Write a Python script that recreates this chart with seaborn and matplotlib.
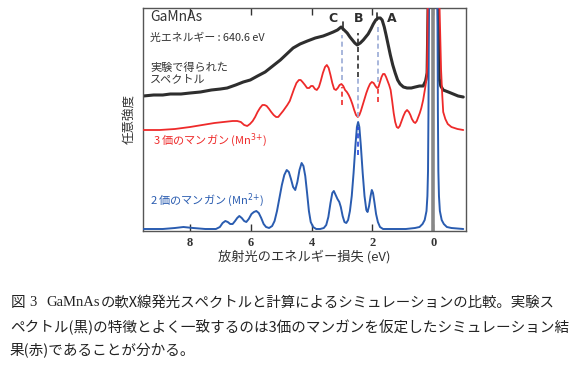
import matplotlib
matplotlib.use("Agg")
import matplotlib.pyplot as plt
import seaborn as sns

# spectra: energy loss (eV) and intensity (arb. units)
exp_ev = [9.54, 9.2, 8.9, 8.65, 8.3, 8.0, 7.66, 7.3, 7.0, 6.78, 6.5, 6.25, 6.02, 5.78, 5.53,
          5.28, 5.03, 4.82, 4.61, 4.38, 4.14, 3.88, 3.62, 3.45, 3.29, 3.15, 3.03, 2.93, 2.83,
          2.74, 2.66, 2.58, 2.50, 2.40, 2.30, 2.22, 2.14, 2.05, 1.97, 1.89, 1.81, 1.74, 1.68,
          1.61, 1.55, 1.48, 1.41, 1.33, 1.25, 1.17, 1.09, 0.98, 0.86, 0.72, 0.59, 0.45, 0.33,
          0.25, 0.20, 0.16, 0.13, -0.13, -0.16, -0.20, -0.25, -0.33, -0.50, -0.66, -0.82, -0.99]
exp_int = [135, 136, 136, 137, 137, 138, 139, 141, 142, 143, 146, 149, 151, 155, 159,
           165, 171, 177, 183, 187, 190, 193, 195, 197, 199, 201, 204, 201, 198,
           194, 191, 188, 186, 188, 191, 194, 197, 202, 207, 211, 213, 213, 211,
           204, 196, 186, 176, 166, 158, 151, 147, 144, 143, 143, 144, 145, 145,
           150, 158, 240, 400, 400, 240, 152, 145, 141, 139, 137, 135, 134]

mn3_ev = [9.54, 9.0, 8.5, 8.0, 7.6, 7.2, 6.9, 6.6, 6.45, 6.33, 6.22, 6.12, 6.03, 5.94, 5.86,
          5.78, 5.70, 5.62, 5.55, 5.48, 5.40, 5.33, 5.25, 5.17, 5.10, 5.02, 4.94, 4.87, 4.80,
          4.72, 4.65, 4.58, 4.50, 4.42, 4.36, 4.30, 4.22, 4.15, 4.08, 4.02, 3.96, 3.89, 3.83,
          3.76, 3.70, 3.63, 3.56, 3.50, 3.44, 3.38, 3.32, 3.26, 3.20, 3.14, 3.08, 3.02, 2.96,
          2.90, 2.84, 2.78, 2.72, 2.66, 2.60, 2.54, 2.48, 2.43, 2.38, 2.32, 2.26, 2.20, 2.14,
          2.08, 2.02, 1.96, 1.90, 1.85, 1.80, 1.75, 1.70, 1.65, 1.60, 1.55, 1.50, 1.45, 1.40,
          1.35, 1.30, 1.25, 1.20, 1.15, 1.10, 1.04, 0.98, 0.92, 0.86, 0.80, 0.75, 0.70, 0.64,
          0.59, 0.54, 0.49, 0.44, 0.39, 0.33, 0.27, 0.22, 0.20, 0.18, 0.15,
          -0.15, -0.21, -0.26, -0.30, -0.33, -0.40, -0.48, -0.60, -0.80, -0.99]
mn3_int = [101, 101, 102, 104, 106, 108, 109, 110, 110, 109, 106, 105, 107, 110, 114,
           119, 123, 126, 126, 125, 122, 119, 116, 114, 114, 117, 120, 123, 126,
           130, 136, 142, 148, 151, 151, 149, 146, 143, 143, 145, 145, 142, 141,
           144, 150, 158, 164, 166, 163, 156, 148, 142, 141, 143, 146, 147, 145,
           141, 139, 136, 132, 127, 121, 116, 114, 116, 120, 126, 132, 138, 143,
           147, 149, 148, 145, 143, 144, 149, 154, 157, 157, 154, 150, 146, 141,
           130, 118, 109, 104, 103, 105, 110, 115, 119, 121, 119, 116, 112, 109,
           108, 110, 114, 118, 123, 131, 142, 152, 165, 223, 400,
           400, 223, 161, 135, 119, 112, 107, 104, 102, 101]

mn2_ev = [9.54, 8.9, 8.5, 8.22, 7.9, 7.5, 7.15, 7.02, 6.93, 6.84, 6.76, 6.68, 6.60, 6.52,
          6.45, 6.38, 6.30, 6.22, 6.15, 6.07, 5.98, 5.90, 5.82, 5.74, 5.66, 5.58, 5.50, 5.40,
          5.30, 5.22, 5.14, 5.06, 4.98, 4.90, 4.82, 4.75, 4.68, 4.61, 4.54, 4.47, 4.40, 4.33,
          4.27, 4.21, 4.15, 4.09, 4.03, 3.95, 3.85, 3.72, 3.60, 3.52, 3.45, 3.38, 3.32, 3.27,
          3.21, 3.15, 3.09, 3.04, 2.98, 2.92, 2.86, 2.80, 2.74, 2.68, 2.62, 2.56, 2.51, 2.47,
          2.43, 2.38, 2.32, 2.26, 2.20, 2.16, 2.11, 2.06, 2.02, 1.98, 1.93, 1.88, 1.82, 1.75,
          1.65, 1.30, 0.90, 0.60, 0.45, 0.35, 0.28, 0.22, 0.19, 0.17, 0.155, 0.14, 0.12,
          -0.12, -0.14, -0.155, -0.17, -0.19, -0.22, -0.28, -0.35, -0.45, -0.60, -0.99]
mn2_int = [2, 2, 3, 4, 3, 2, 2, 4, 8, 10, 9, 7, 7, 10,
           13, 15, 13, 10, 9, 12, 17, 19, 20, 18, 13, 7, 4, 3,
           5, 10, 20, 33, 46, 56, 61, 59, 52, 44, 41, 49, 61, 68,
           65, 55, 38, 20, 9, 4, 2, 2, 3, 6, 14, 28, 38, 40,
           36, 32, 29, 24, 15, 9, 8, 11, 20, 35, 58, 85, 104, 109,
           104, 85, 58, 35, 21, 19, 25, 35, 41, 38, 28, 17, 9, 4,
           2, 2, 2, 3, 4, 7, 11, 20, 35, 60, 120, 223, 400,
           400, 223, 120, 60, 35, 20, 11, 7, 4, 3, 2]

# features A, B, C
feat_labels = ["C", "B", "A"]
label_ev = [3.29, 2.47, 1.35]

sns.set_theme(style="white")
plt.rcParams["font.family"] = ["Noto Sans CJK JP", "DejaVu Sans"]

fig = plt.figure(figsize=(5.77, 3.72), dpi=100)
ax = fig.add_axes([143 / 577, 1 - 231 / 372, 323 / 577, 223 / 372])

black = "#2e2e2e"
red = "#ee2a2a"
blue = "#2a5cb0"
pale = "#9aaad6"

ax.axvline(0, color="#888888", lw=2.6, zorder=1)
sns.lineplot(x=mn2_ev, y=mn2_int, ax=ax, color=blue, lw=1.4, sort=False, estimator=None, zorder=3)
sns.lineplot(x=mn3_ev, y=mn3_int, ax=ax, color=red, lw=1.3, sort=False, estimator=None, zorder=3)
sns.lineplot(x=exp_ev, y=exp_int, ax=ax, color=black, lw=2.2, sort=False, estimator=None, zorder=2)

# dashed guide lines at the features
dash = dict(lw=1.2, linestyle=(0, (3, 2)), zorder=4)
ax.plot([3.0, 3.0], [151, 196], color=pale, **dash)
ax.plot([3.0, 3.0], [126, 144], color=red, **dash)
ax.plot([2.97, 2.97], [201, 209], color=black, lw=1.2)
ax.plot([2.47, 2.47], [154, 198], color=black, **dash)
ax.plot([2.47, 2.47], [114, 154], color=pale, **dash)
ax.plot([2.47, 2.47], [76, 104], color="#2244dd", **dash)
ax.plot([1.81, 1.81], [149, 204], color=pale, **dash)
ax.plot([1.81, 1.81], [129, 143], color=red, **dash)
ax.plot([1.84, 1.84], [211, 218], color=black, lw=1.2)
for lab, xe in zip(feat_labels, label_ev):
    ax.text(xe, 213, lab, ha="center", va="center", fontsize=9, fontweight="bold",
            color=black, family=["DejaVu Sans"])

ax.set_xlim(9.55, -1.08)
ax.set_ylim(0, 223)
ax.set_xticks([8, 6, 4, 2, 0])
ax.set_xticklabels(["8", "6", "4", "2", "0"], family=["Liberation Serif"],
                   fontsize=9, fontweight="bold")
ax.set_yticks([])
ax.tick_params(axis="x", direction="in", length=5, width=1, top=True, bottom=True,
               color="#333333", pad=4, labelcolor="#333333")
for s in ax.spines.values():
    s.set_color("#555555")
    s.set_linewidth(1.0)
ax.set_xlabel("放射光のエネルギー損失 (eV)", fontsize=9.5, color="#333333", labelpad=1)
ax.set_ylabel("任意強度", fontsize=9, color="#333333", labelpad=5)

tk = dict(transform=ax.transAxes, ha="left", va="center", color="#333333")
ax.text(0.022, 0.958, "GaMnAs", fontsize=10, **tk)
ax.text(0.022, 0.868, "光エネルギー : 640.6 eV", fontsize=7.8, **tk)
ax.text(0.022, 0.705, "実験で得られた\nスペクトル", fontsize=8, linespacing=1.15, **tk)
ax.text(0.03, 0.408, "3 価のマンガン (Mn$^{3{+}}$)", fontsize=8, transform=ax.transAxes,
        ha="left", va="center", color=red)
ax.text(0.022, 0.14, "2 価のマンガン (Mn$^{2{+}}$)", fontsize=8, transform=ax.transAxes,
        ha="left", va="center", color=blue)

# caption
def ftxt(px, py, s, **kw):
    fig.text(px / 577, 1 - py / 372, s, ha="left", va="center", color="#222222", **kw)

ftxt(11, 303, "図", fontsize=10.5)
ftxt(29, 303, "3", fontsize=10.5, family=["Liberation Serif"])
ftxt(46, 303, "GaMnAs", fontsize=10.5, family=["Liberation Serif"])
ftxt(101, 303, "の軟X線発光スペクトルと計算によるシミュレーションの比較。実験ス", fontsize=10.4)
ftxt(10, 327, "ペクトル(黒)の特徴とよく一致するのは3価のマンガンを仮定したシミュレーション結", fontsize=10.5)
ftxt(10, 351, "果(赤)であることが分かる。", fontsize=10.5)

fig.savefig("out.png", dpi=100)
